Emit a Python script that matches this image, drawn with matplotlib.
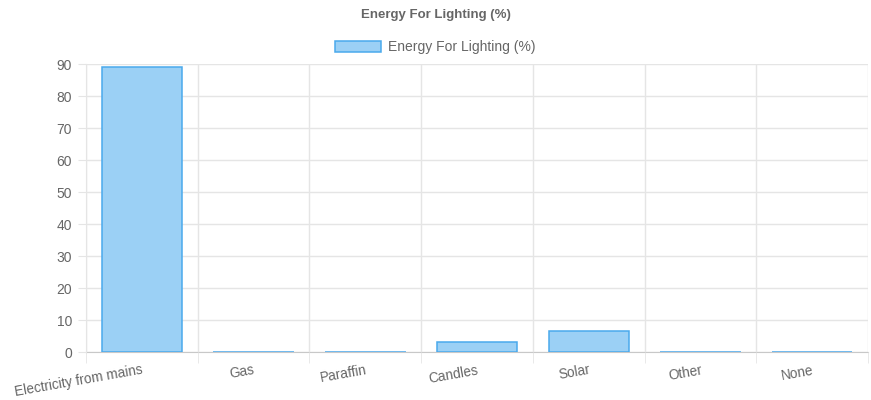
import numpy as np
import matplotlib.pyplot as plt

categories = ["Electricity from mains", "Gas", "Paraffin", "Candles", "Solar", "Other", "None"]
values = [89.1, 0.1, 0.1, 3.1, 6.6, 0.1, 0.1]
y_ticks = list(range(0, 91, 10))

plt.rcParams['font.family'] = ['Liberation Sans', 'DejaVu Sans']
text_color = '#666666'
grid_color = '#e5e5e5'

fig = plt.figure(figsize=(8.71, 4.0), dpi=100)
ax = fig.add_axes([0.0987, 0.12, 0.898, 0.72])

x = np.arange(len(categories))
ax.bar(x, values, width=0.72, color='#9bd0f5', edgecolor='#4aa9ec', linewidth=1.1, zorder=3,
       label='Energy For Lighting (%)')

ax.set_xlim(-0.5, len(categories) - 0.5)
ax.set_ylim(0, 90)
ax.set_yticks(y_ticks)
ax.tick_params(axis='y', labelsize=10, colors=text_color, length=6, color=grid_color, pad=4)
ax.set_yticklabels([str(t) for t in y_ticks], color=text_color)

# category ticks at the bar centres, separators between categories
ax.set_xticks(x)
ax.set_xticklabels(categories, rotation=10, ha='right', rotation_mode='anchor',
                   fontsize=9.8, color=text_color)
ax.tick_params(axis='x', length=0, pad=8)
ax.set_xticks(np.arange(len(categories) + 1) - 0.5, minor=True)
ax.tick_params(axis='x', which='minor', length=8, color=grid_color)
ax.grid(True, axis='x', which='minor', color=grid_color, linewidth=1, zorder=0)
ax.grid(True, axis='y', which='major', color=grid_color, linewidth=1, zorder=0)

for side in ['top', 'right']:
    ax.spines[side].set_visible(False)
ax.spines['left'].set_color(grid_color)
ax.spines['bottom'].set_color('#c8c8c8')
ax.spines['bottom'].set_zorder(1)

fig.text(0.5, 0.962, 'Energy For Lighting (%)', ha='center', va='center',
         fontsize=9.5, fontweight='bold', color=text_color)
ax.legend(loc='center', frameon=False, fontsize=10, labelcolor=text_color, handlelength=3.3,
          handleheight=0.9, handletextpad=0.5)
leg = ax.get_legend()
leg.set_bbox_to_anchor((0.5, 0.882), transform=fig.transFigure)

fig.savefig('out.png', dpi=100)
